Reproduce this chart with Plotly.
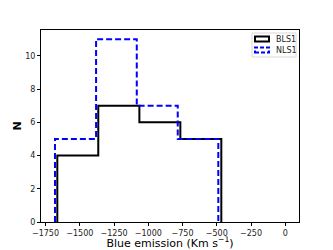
import plotly.graph_objects as go

# Histogram data (bin edges and counts)
bls1_edges = [-1664, -1365, -1065, -766, -467]
bls1_counts = [4, 7, 6, 5]
nls1_edges = [-1681, -1381, -1084, -785, -489]
nls1_counts = [5, 11, 7, 5]

x_ticks = [-1750, -1500, -1250, -1000, -750, -500, -250, 0]
y_ticks = [0, 2, 4, 6, 8, 10]

# plot area in pixels
L, R, T, B = 41, 299, 30, 222
W, H = 333, 250


def step_path(edges, counts):
    xs = [edges[0]]
    ys = [0]
    for i, c in enumerate(counts):
        xs += [edges[i], edges[i + 1]]
        ys += [c, c]
    xs.append(edges[-1])
    ys.append(0)
    return xs, ys


def fx(px):
    return (px - L) / (R - L)


def fy(py):
    return (B - py) / (B - T)


fig = go.Figure()
bx, by = step_path(bls1_edges, bls1_counts)
nx, ny = step_path(nls1_edges, nls1_counts)
fig.add_trace(go.Scatter(x=bx, y=by, mode="lines", name="BLS1", showlegend=False,
                         line=dict(color="black", width=2)))
fig.add_trace(go.Scatter(x=nx, y=ny, mode="lines", name="NLS1", showlegend=False,
                         line=dict(color="blue", width=2, dash="6px,3px")))

# legend box drawn manually (matplotlib style)
shapes = [
    dict(type="rect", xref="x domain", yref="y domain",
         x0=fx(252), x1=fx(296), y0=fy(57), y1=fy(33),
         line=dict(color="#d8d8d8", width=1), fillcolor="white", layer="above"),
    dict(type="rect", xref="x domain", yref="y domain",
         x0=fx(255), x1=fx(269), y0=fy(41.5), y1=fy(36.5),
         line=dict(color="black", width=2), fillcolor="rgba(0,0,0,0)", layer="above"),
    dict(type="rect", xref="x domain", yref="y domain",
         x0=fx(255), x1=fx(269), y0=fy(52.5), y1=fy(47.5),
         line=dict(color="blue", width=2, dash="4px,2px"), fillcolor="rgba(0,0,0,0)",
         layer="above"),
]
annotations = [
    dict(text="BLS1", xref="x domain", yref="y domain", x=fx(274), y=fy(39.3),
         xanchor="left", yanchor="middle", showarrow=False,
         font=dict(size=8, color="#222", family="DejaVu Sans")),
    dict(text="NLS1", xref="x domain", yref="y domain", x=fx(274), y=fy(50.2),
         xanchor="left", yanchor="middle", showarrow=False,
         font=dict(size=8, color="#222", family="DejaVu Sans")),
]

fig.update_layout(
    width=W, height=H,
    margin=dict(l=L, r=W - R, t=T, b=H - B, autoexpand=False),
    paper_bgcolor="white", plot_bgcolor="white",
    font=dict(family="DejaVu Sans", size=8, color="#222"),
    showlegend=False,
    shapes=shapes,
    annotations=annotations,
    xaxis=dict(range=[-1783, 100], tickvals=x_ticks,
               ticktext=["\u2212" + str(abs(v)) if v < 0 else str(v) for v in x_ticks],
               showgrid=False, zeroline=False, showline=True, mirror=True,
               linecolor="black", linewidth=1, ticks="outside", ticklen=3,
               tickcolor="black", automargin=True,
               title=dict(text="Blue emission (Km s<sup>\u22121</sup>)",
                          font=dict(size=11, color="black"), standoff=4)),
    yaxis=dict(range=[0, 11.55], tickvals=y_ticks,
               showgrid=False, zeroline=False, showline=True, mirror=True,
               linecolor="black", linewidth=1, ticks="outside", ticklen=3,
               tickcolor="black", automargin=True,
               title=dict(text="<b>N</b>", font=dict(size=11, color="black"),
                          standoff=1)),
)

fig.write_html("out.html",
               config={"displayModeBar": False},
               post_script="document.body.style.margin='0';"
                           "document.body.style.overflow='hidden';")
